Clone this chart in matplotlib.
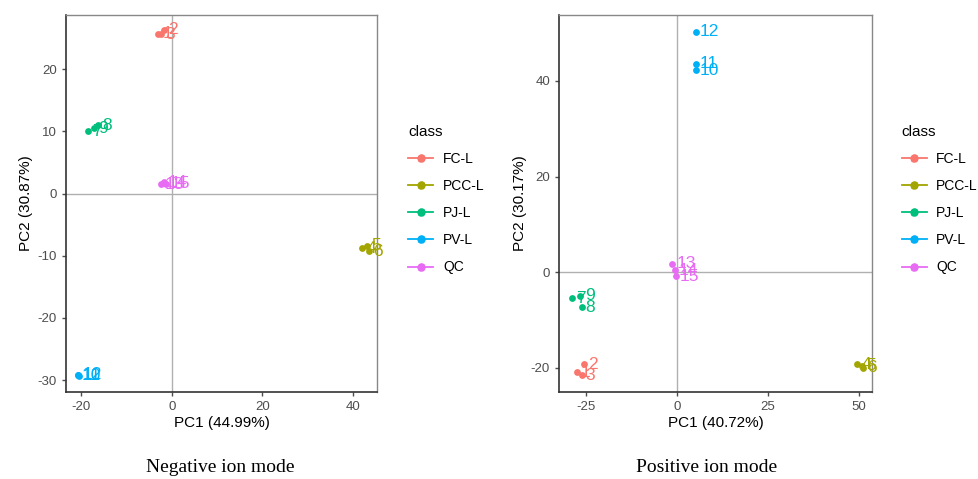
import numpy as np
import matplotlib
matplotlib.use('Agg')
import matplotlib.pyplot as plt
from matplotlib.lines import Line2D
from matplotlib.legend_handler import HandlerTuple

classes = ['FC-L', 'PCC-L', 'PJ-L', 'PV-L', 'QC']
colors = ['#F8766D', '#A3A500', '#00BF7D', '#00B0F6', '#E76BF3']
sample_ids = [str(i) for i in range(1, 16)]
sample_class = [0, 0, 0, 1, 1, 1, 2, 2, 2, 3, 3, 3, 4, 4, 4]

# negative ion mode scores
neg_pc1 = [-3.0, -1.8, -2.4, 42.0, 43.2, 43.5, -18.5, -16.3, -17.2,
           -20.8, -20.6, -20.7, -2.5, -1.8, -1.3]
neg_pc2 = [25.7, 26.3, 25.6, -8.8, -8.4, -9.3, 10.0, 11.0, 10.5,
           -29.2, -29.3, -29.1, 1.5, 1.8, 1.6]
neg_xlabel = 'PC1 (44.99%)'
neg_ylabel = 'PC2 (30.87%)'
neg_xticks = [-20, 0, 20, 40]
neg_yticks = [-30, -20, -10, 0, 10, 20]

# positive ion mode scores
pos_pc1 = [-27.5, -25.5, -26.2, 49.5, 50.8, 51.0, -28.8, -26.2, -26.5,
           5.2, 5.2, 5.2, -1.3, -0.6, -0.3]
pos_pc2 = [-21.0, -19.3, -21.6, -19.3, -19.6, -20.0, -5.5, -7.4, -5.0,
           42.2, 43.6, 50.3, 1.7, 0.4, -0.9]
pos_xlabel = 'PC1 (40.72%)'
pos_ylabel = 'PC2 (30.17%)'
pos_xticks = [-25, 0, 25, 50]
pos_yticks = [-20, 0, 20, 40]

plt.rcParams['font.family'] = ['Liberation Sans', 'DejaVu Sans']
plt.rcParams['axes.unicode_minus'] = False


def draw_panel(ax, pc1, pc2, xlabel, ylabel, xticks, yticks, xlim, ylim):
    ax.axhline(0, color='#b0b0b0', lw=1.0, zorder=1)
    ax.axvline(0, color='#b0b0b0', lw=1.0, zorder=1)
    for i, (x, y) in enumerate(zip(pc1, pc2)):
        c = colors[sample_class[i]]
        ax.scatter(x, y, s=24, color=c, zorder=3, linewidths=0)
        ax.annotate(sample_ids[i], (x, y), xytext=(3, 0), textcoords='offset points',
                    ha='left', va='center', color=c, fontsize=12.5, zorder=4)
    ax.set_xlim(xlim)
    ax.set_ylim(ylim)
    ax.set_xticks(xticks)
    ax.set_yticks(yticks)
    ax.set_xlabel(xlabel, fontsize=11, labelpad=2)
    ax.set_ylabel(ylabel, fontsize=11, labelpad=3)
    ax.tick_params(colors='#4d4d4d', labelsize=9.5, length=3, width=1)
    for side in ['top', 'right']:
        ax.spines[side].set_color('#888888')
        ax.spines[side].set_linewidth(1.0)
    for side in ['left', 'bottom']:
        ax.spines[side].set_color('#333333')
        ax.spines[side].set_linewidth(1.2)


def add_legend(ax, fig, x, y):
    handles = []
    for c in colors:
        line = Line2D([], [], color=c, lw=1.3, marker='o', ms=6, mew=0)
        letter = Line2D([], [], color=c, ls='none', marker='$a$', ms=5, mew=0.6)
        handles.append((line, letter))
    leg = ax.legend(handles, classes, handler_map={tuple: HandlerTuple(ndivide=1)},
                    loc='upper left', bbox_to_anchor=(x, y), bbox_transform=fig.transFigure,
                    frameon=False, title='class', alignment='left', fontsize=10,
                    title_fontproperties={'size': 11}, handlelength=1.8,
                    labelspacing=0.95, handletextpad=0.7)
    return leg


fig = plt.figure(figsize=(9.79, 4.79), dpi=100)
ax1 = fig.add_axes([66 / 979, 1 - 392 / 479, 311 / 979, 377 / 479])
ax2 = fig.add_axes([559 / 979, 1 - 392 / 479, 313 / 979, 377 / 479])

draw_panel(ax1, neg_pc1, neg_pc2, neg_xlabel, neg_ylabel, neg_xticks, neg_yticks,
           (-23.4, 45.3), (-31.9, 28.7))
draw_panel(ax2, pos_pc1, pos_pc2, pos_xlabel, pos_ylabel, pos_xticks, pos_yticks,
           (-32.4, 53.6), (-25.1, 53.8))

add_legend(ax1, fig, 396 / 979, 1 - 112 / 479)
add_legend(ax2, fig, 889 / 979, 1 - 112 / 479)

fig.text(220 / 979, 1 - 467 / 479, 'Negative ion mode', ha='center', va='center',
         family='Liberation Serif', fontsize=14)
fig.text(707 / 979, 1 - 467 / 479, 'Positive ion mode', ha='center', va='center',
         family='Liberation Serif', fontsize=14)

fig.savefig('out.png', dpi=100)
